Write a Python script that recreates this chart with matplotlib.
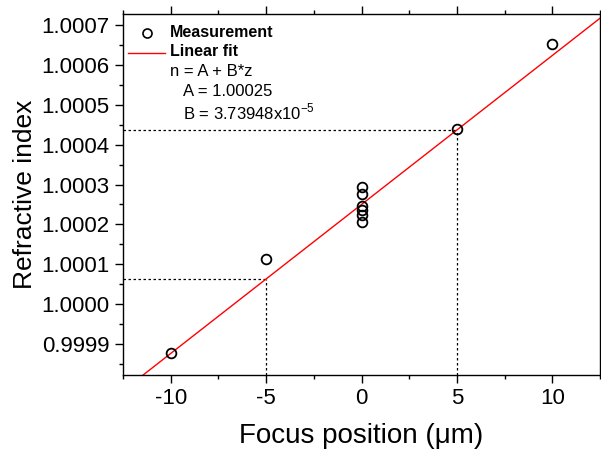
import numpy as np
import matplotlib
matplotlib.use("Agg")
import matplotlib.pyplot as plt
from matplotlib.ticker import MultipleLocator, FormatStrFormatter

plt.rcParams['font.family'] = ['Liberation Sans', 'DejaVu Sans']
plt.rcParams['mathtext.fontset'] = 'custom'
plt.rcParams['mathtext.rm'] = 'Liberation Sans'

# Measured refractive index vs. focus position
focus_um = [-10, -5, 0, 0, 0, 0, 0, 0, 5, 10]
n_meas = [0.999877, 1.000112, 1.000295, 1.000275, 1.000245, 1.000236,
          1.000224, 1.000206, 1.000440, 1.000652]

# Linear fit n = A + B*z
A = 1.00025
B = 3.73948e-5
marked_z = [-5, 5]

xlim = (-12.5, 12.5)
ylim = (0.999822, 1.000728)

fig = plt.figure(figsize=(6.01, 4.53), dpi=100)
ax = fig.add_axes([0.2047, 0.1722, 0.7937, 0.7969])

zz = np.array(xlim)
ax.plot(zz, A + B * zz, color='red', lw=1.0, zorder=2)

ax.plot(focus_um, n_meas, linestyle='none', marker='o', ms=7,
        mfc='none', mec='black', mew=1.3, zorder=3)

for z in marked_z:
    nz = A + B * z
    ax.plot([xlim[0], z], [nz, nz], color='black', lw=0.9,
            linestyle=(0, (2, 2)), zorder=1)
    ax.plot([z, z], [ylim[0], nz], color='black', lw=0.9,
            linestyle=(0, (2, 2)), zorder=1)

ax.set_xlim(*xlim)
ax.set_ylim(*ylim)
ax.xaxis.set_major_locator(MultipleLocator(5))
ax.xaxis.set_minor_locator(MultipleLocator(2.5))
ax.yaxis.set_major_locator(MultipleLocator(0.0001))
ax.yaxis.set_minor_locator(MultipleLocator(0.00005))
ax.yaxis.set_major_formatter(FormatStrFormatter('%.4f'))
ax.xaxis.set_major_formatter(FormatStrFormatter('%g'))

ax.tick_params(which='both', direction='out', top=True, right=True,
               labelsize=16, width=1.0)
ax.tick_params(which='major', length=6)
ax.tick_params(which='minor', length=3)
for s in ax.spines.values():
    s.set_linewidth(1.0)

ax.set_xlabel('Focus position (\u03bcm)', fontsize=20, labelpad=10)
ax.set_ylabel('Refractive index', fontsize=19, labelpad=3)

# Legend keys and fit equation
tr = ax.transAxes
ax.plot([0.0503], [0.947], transform=tr, linestyle='none', marker='o', ms=6.5,
        mfc='none', mec='black', mew=1.2, clip_on=False)
ax.plot([0.0105, 0.0881], [0.892, 0.892], transform=tr, color='red', lw=1.0)
ax.text(0.0985, 0.950, 'Measurement', transform=tr, fontsize=11.5,
        fontweight='bold', va='center', ha='left')
ax.text(0.0985, 0.895, 'Linear fit', transform=tr, fontsize=11.5,
        fontweight='bold', va='center', ha='left')
ax.text(0.0985, 0.840, 'n = A + B*z', transform=tr, fontsize=12,
        va='center', ha='left')
ax.text(0.126, 0.785, 'A = 1.00025', transform=tr, fontsize=12,
        va='center', ha='left')
ax.text(0.126, 0.729, 'B = 3.73948x10$^{-5}$', transform=tr,
        fontsize=12, va='center', ha='left')

fig.savefig('out.png', dpi=100)
